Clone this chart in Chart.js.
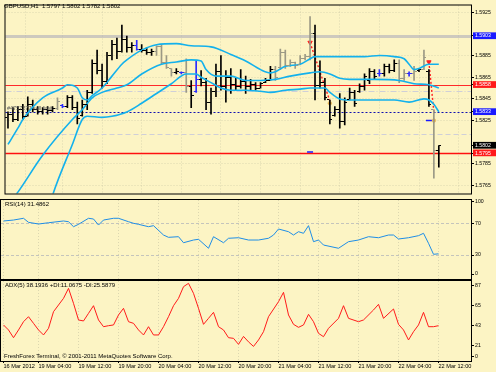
<!DOCTYPE html>
<html>
<head>
<meta charset="utf-8">
<script src="https://cdn.jsdelivr.net/npm/chart.js@4.4.1/dist/chart.umd.min.js"></script>
<style>
  body { margin: 0; width: 496px; height: 372px; overflow: hidden; position: relative; background: #fcf4c4; font-family: "Liberation Sans", Arial, sans-serif; }
  canvas { position: absolute; left: 0; }
  .txt { position: absolute; white-space: nowrap; line-height: 1; font-size: 6px; color: #000; }
</style>
</head>
<body>
<canvas id="main" width="496" height="199" style="top:0"></canvas>
<canvas id="rsi" width="496" height="81" style="top:199px"></canvas>
<canvas id="adx" width="496" height="92" style="top:280px"></canvas>
<div class="txt" style="left:4px;top:3px">GBPUSD,H1&nbsp; 1.5797 1.5802 1.5782 1.5802</div>
<div class="txt" style="left:7px;top:106px;color:#555;font-size:5.5px">#4757277 sell limit</div>
<div class="txt" style="left:5px;top:201px">RSI(14) 31.4862</div>
<div class="txt" style="left:5px;top:282px">ADX(5) 38.1936 +DI:11.0675 -DI:25.5879</div>
<div class="txt" style="left:4px;top:353px">FreshForex Terminal, © 2001-2011 MetaQuotes Software Corp.</div>
<script>
// H1 bars, index 0 = first bar on the left
const timeLabels = ['16 Mar 2012', '19 Mar 04:00', '19 Mar 12:00', '19 Mar 20:00', '20 Mar 04:00', '20 Mar 12:00',
  '20 Mar 20:00', '21 Mar 04:00', '21 Mar 12:00', '21 Mar 20:00', '22 Mar 04:00', '22 Mar 12:00'];
const timeTickBars = [0, 7, 15, 23, 31, 39, 47, 55, 63, 71, 79, 87];

const opens = [1.5828,1.5831,1.5826,1.5835,1.5829,1.5840,1.5835,1.5833,1.5835,1.5834,
  1.5836,1.5839,1.5838,1.5846,1.5837,1.5830,1.5840,1.5851,1.5878,1.5871,
  1.5861,1.5885,1.5895,1.5889,1.5900,1.5892,1.5894,1.5891,1.5890,1.5888,
  1.5889,1.5893,1.5879,1.5873,1.5869,1.5869,1.5869,1.5856,1.5852,1.5863,
  1.5860,1.5842,1.5852,1.5870,1.5856,1.5865,1.5858,1.5856,1.5861,1.5856,
  1.5858,1.5855,1.5860,1.5862,1.5872,1.5874,1.5888,1.5876,1.5879,1.5877,
  1.5882,1.5884,1.5905,1.5857,1.5860,1.5844,1.5830,1.5835,1.5824,1.5844,
  1.5851,1.5852,1.5856,1.5862,1.5870,1.5868,1.5868,1.5875,1.5871,1.5878,
  1.5864,1.5868,1.5868,1.5871,1.5872,1.5870,1.5835,1.5797];
const highs = [1.5833,1.5837,1.5838,1.5840,1.5847,1.5844,1.5838,1.5837,1.5838,1.5838,
  1.5846,1.5840,1.5848,1.5848,1.5842,1.5844,1.5853,1.5881,1.5890,1.5877,
  1.5888,1.5899,1.5901,1.5913,1.5903,1.5897,1.5899,1.5895,1.5892,1.5891,
  1.5894,1.5895,1.5885,1.5873,1.5873,1.5870,1.5882,1.5862,1.5880,1.5871,
  1.5864,1.5855,1.5877,1.5885,1.5871,1.5873,1.5864,1.5872,1.5866,1.5863,
  1.5860,1.5860,1.5864,1.5875,1.5875,1.5891,1.5890,1.5881,1.5879,1.5885,
  1.5886,1.5921,1.5913,1.5880,1.5864,1.5844,1.5838,1.5850,1.5846,1.5855,
  1.5853,1.5859,1.5868,1.5873,1.5872,1.5872,1.5877,1.5877,1.5881,1.5881,
  1.5872,1.5870,1.5875,1.5873,1.5890,1.5872,1.5835,1.5802];
const lows = [1.5818,1.5824,1.5825,1.5826,1.5829,1.5833,1.5831,1.5831,1.5831,1.5833,
  1.5835,1.5837,1.5837,1.5835,1.5822,1.5829,1.5835,1.5850,1.5868,1.5855,
  1.5859,1.5881,1.5882,1.5888,1.5888,1.5888,1.5890,1.5888,1.5886,1.5885,
  1.5885,1.5877,1.5873,1.5866,1.5868,1.5868,1.5851,1.5837,1.5851,1.5857,
  1.5835,1.5831,1.5847,1.5853,1.5842,1.5850,1.5853,1.5855,1.5850,1.5853,
  1.5853,1.5855,1.5860,1.5862,1.5862,1.5872,1.5873,1.5875,1.5873,1.5877,
  1.5881,1.5881,1.5844,1.5855,1.5844,1.5822,1.5829,1.5818,1.5821,1.5844,
  1.5838,1.5851,1.5853,1.5859,1.5863,1.5866,1.5866,1.5869,1.5870,1.5860,
  1.5862,1.5866,1.5862,1.5870,1.5872,1.5838,1.5772,1.5782];
const closes = [1.5831,1.5826,1.5835,1.5829,1.5840,1.5835,1.5833,1.5835,1.5834,1.5836,
  1.5843,1.5838,1.5846,1.5837,1.5827,1.5840,1.5851,1.5878,1.5871,1.5861,
  1.5885,1.5895,1.5889,1.5900,1.5892,1.5894,1.5891,1.5890,1.5888,1.5889,
  1.5893,1.5879,1.5874,1.5869,1.5870,1.5869,1.5856,1.5848,1.5863,1.5860,
  1.5842,1.5852,1.5870,1.5856,1.5865,1.5858,1.5856,1.5861,1.5856,1.5858,
  1.5855,1.5859,1.5862,1.5872,1.5865,1.5888,1.5876,1.5879,1.5876,1.5882,
  1.5884,1.5905,1.5857,1.5860,1.5846,1.5826,1.5835,1.5824,1.5842,1.5851,
  1.5841,1.5856,1.5866,1.5870,1.5866,1.5868,1.5875,1.5871,1.5878,1.5864,
  1.5868,1.5868,1.5870,1.5872,1.5883,1.5840,1.5797,1.5802];
const grayBars = [10, 30, 31, 32, 33, 36, 54, 55, 56, 57, 58, 59, 60, 61, 79, 80, 82, 84, 86];
const blueBars = [11, 26, 35, 38, 75, 81];

// [bar, price]
const upperBand = [[0,1.5803],[2,1.5818],[3,1.5826],[7,1.5846],[11,1.5855],[12,1.5858],[14,1.5855],[15,1.5846],
  [16,1.5844],[17,1.5848],[19,1.5855],[21,1.5866],[23,1.5877],[24,1.5881],[27,1.5890],[30,1.5895],[34,1.5896],
  [37,1.5894],[41,1.5893],[45,1.5886],[48,1.5880],[51,1.5872],[53,1.5869],[54,1.5870],[56,1.5875],[59,1.5877],
  [61,1.5882],[62,1.5884],[64,1.5884],[67,1.5884],[72,1.5884],[75,1.5885],[78,1.5884],[80,1.5882],[81,1.5877],
  [82,1.5872],[83,1.5873],[85,1.5877],[87,1.5877]];
const middleBand = [[0,1.5747],[2,1.5759],[7,1.5793],[13,1.5826],[15,1.5835],[17,1.5846],[19,1.5851],[22,1.5855],
  [24,1.5858],[27,1.5868],[31,1.5877],[34,1.5879],[37,1.5881],[39,1.5880],[40,1.5872],[42,1.5866],[45,1.5866],
  [48,1.5862],[51,1.5862],[54,1.5863],[57,1.5866],[61,1.5869],[63,1.5870],[65,1.5868],[67,1.5864],[69,1.5863],
  [74,1.5863],[79,1.5862],[82,1.5859],[85,1.5858],[87,1.5855]];
const lowerBand = [[8,1.5740],[9,1.5756],[13,1.5803],[15,1.5826],[16,1.5829],[19,1.5828],[21,1.5829],[24,1.5833],
  [27,1.5841],[30,1.5850],[33,1.5859],[36,1.5868],[38,1.5868],[39,1.5865],[41,1.5860],[43,1.5855],[45,1.5853],
  [48,1.5853],[51,1.5852],[53,1.5851],[56,1.5853],[59,1.5854],[61,1.5855],[64,1.5855],[65,1.5851],[67,1.5845],
  [69,1.5844],[72,1.5844],[78,1.5844],[81,1.5842],[84,1.5845],[85,1.5844],[86,1.5840],[87,1.5833]];

// chart objects
const hLines = [1.5903, 1.5858, 1.5852, 1.5833, 1.5813, 1.5795];
const hLineStyles = [
  { color: 'rgba(165,165,185,0.55)', width: 3, dash: [] },
  { color: '#ff2a2a', width: 1, dash: [] },
  { color: '#cfcfd8', width: 1, dash: [6, 2, 1, 2] },
  { color: '#1010b0', width: 1, dash: [2, 2] },
  { color: '#cfcfd8', width: 1, dash: [5, 3] },
  { color: '#ff1010', width: 1.5, dash: [] }
];
const tradeOpen = [[61, 1.5897], [85, 1.5879]];
const tradeClose = [[65, 1.5843], [86, 1.5833]];
const tradeStops = [[61, 1.5796], [85, 1.5825]];
const tradeExits = [[65, 1.5841], [86, 1.5825]];

const priceTicks = [1.5765, 1.5785, 1.5825, 1.5845, 1.5865, 1.5885, 1.5925];
const priceTags = [1.5795, 1.5802, 1.5833, 1.5858, 1.5903];
const tagColors = ['#ff1a1a', '#000000', '#1a1aff', '#ff1a1a', '#1a1aff'];

const rsiValues = [[0,72.9],[2,74.1],[4,76.3],[5,71.2],[7,69.1],[9,70.7],[12,72.9],[13,72.0],[14,65.7],[15,68.7],
  [17,76.3],[18,75.4],[19,67.8],[20,74.1],[22,76.3],[23,76.3],[25,72.0],[26,70.0],[27,68.7],[29,65.7],[30,67.0],
  [32,55.2],[33,52.3],[35,53.1],[36,45.5],[38,48.9],[39,49.8],[41,38.5],[42,53.1],[44,45.5],[45,51.1],[47,51.8],
  [49,48.9],[51,48.9],[53,51.1],[54,55.2],[55,62.8],[57,59.4],[58,55.2],[59,59.4],[60,57.4],[61,67.0],[62,46.8],
  [63,48.9],[64,42.6],[67,38.5],[69,46.8],[71,48.9],[73,53.1],[75,51.8],[77,55.2],[78,55.2],[79,50.2],[81,51.8],
  [83,54.4],[84,57.4],[85,44.8],[86,30.9],[87,31.5]];
const rsiTicks = [0, 30, 70, 100];
const rsiLevels = [30, 70];

const adxValues = [[0,43.6],[1,38.1],[2,29.6],[3,38.1],[4,47.2],[5,52.7],[6,45.4],[7,38.1],[8,32.6],[9,39.9],
  [10,58.2],[12,72.9],[13,83.9],[14,67.4],[15,49.1],[16,48.0],[17,56.4],[18,64.8],[19,49.1],[20,41.7],[21,42.8],
  [22,43.6],[23,54.6],[24,61.9],[25,47.2],[26,45.4],[27,38.1],[28,32.6],[29,41.7],[30,32.6],[31,32.6],[32,41.7],
  [33,52.7],[34,64.8],[35,72.9],[36,85.7],[37,89.4],[38,78.4],[39,61.9],[40,44.3],[41,50.9],[42,57.5],[43,41.7],
  [44,38.1],[45,29.6],[46,28.9],[47,22.3],[48,31.0],[49,25.0],[50,20.0],[51,27.1],[52,36.2],[53,52.7],[55,69.2],
  [56,79.5],[57,54.6],[58,44.3],[59,41.0],[60,43.6],[61,55.3],[62,47.2],[63,34.4],[64,30.7],[65,39.9],[67,50.9],
  [68,64.8],[69,50.9],[71,47.2],[72,49.1],[74,60.1],[75,66.3],[76,50.9],[78,61.2],[79,44.3],[80,38.1],[81,27.1],
  [82,36.2],[83,43.6],[84,57.5],[85,41.7],[86,41.7],[87,42.8]];
const adxTicks = [0, 21, 43, 65, 87];

Chart.defaults.font.family = '"Liberation Sans", Arial, sans-serif';
Chart.defaults.animation = false;
Chart.defaults.plugins.legend.display = false;
Chart.defaults.plugins.tooltip.enabled = false;

const gridColor = 'rgba(160,160,140,0.35)';
const pts = arr => arr.map(([x, y]) => ({ x, y }));
const barColor = i => grayBars.includes(i) ? '#9b9985' : blueBars.includes(i) ? '#2b2bff' : '#000';
const tagIndex = v => priceTags.indexOf(v);

const paneFrame = {
  id: 'paneFrame',
  afterDraw(chart) {
    const { ctx, chartArea: a } = chart;
    ctx.save();
    ctx.strokeStyle = '#000';
    ctx.lineWidth = 1;
    ctx.strokeRect(a.left - 0.5, a.top - 0.5, a.right - a.left + 1, a.bottom - a.top + 1);
    ctx.restore();
  }
};

const levelLines = {
  id: 'levelLines',
  beforeDatasetsDraw(chart) {
    const { ctx, chartArea: a, scales: { y } } = chart;
    ctx.save();
    hLines.forEach((price, k) => {
      const s = hLineStyles[k];
      const py = Math.round(y.getPixelForValue(price)) + 0.5;
      ctx.strokeStyle = s.color;
      ctx.lineWidth = s.width;
      ctx.setLineDash(s.dash);
      ctx.beginPath();
      ctx.moveTo(a.left, py);
      ctx.lineTo(a.right, py);
      ctx.stroke();
    });
    ctx.restore();
  }
};

// open tick on the left, close tick on the right of each bar
const barTicks = {
  id: 'barTicks',
  afterDatasetsDraw(chart) {
    const { ctx, scales: { x, y } } = chart;
    ctx.save();
    opens.forEach((o, i) => {
      const px = Math.round(x.getPixelForValue(i) - 0.5);
      ctx.fillStyle = barColor(i);
      ctx.fillRect(px - 2, Math.round(y.getPixelForValue(o) - 0.5), 2, 1);
      ctx.fillRect(px + 1, Math.round(y.getPixelForValue(closes[i]) - 0.5), 2, 1);
    });
    ctx.restore();
  }
};

function timeAxis(showLabels) {
  return {
    type: 'linear', min: -0.5, max: 93.5, offset: false,
    afterBuildTicks: a => { a.ticks = timeTickBars.map(v => ({ value: v })); },
    ticks: {
      display: showLabels, autoSkip: false, maxRotation: 0, align: 'start', padding: 0,
      font: { size: 5.6 }, color: '#000',
      callback: v => timeLabels[timeTickBars.indexOf(v)]
    },
    grid: { color: gridColor, drawTicks: showLabels, tickLength: 2, tickColor: '#000' },
    border: { display: false, dash: [1, 2] },
    afterFit: s => { s.height = showLabels ? 11 : 0; s.paddingLeft = 0; s.paddingRight = 0; }
  };
}

// MT4 keeps the end labels of a sub window inside the pane
function pinnedTicks(values, lowGap, highGap) {
  return a => {
    a.ticks = values.map(v => ({
      value: Math.min(Math.max(v, a.min + lowGap), a.max - highGap),
      text: String(v)
    }));
  };
}

const sideAxisWidth = s => { s.width = 25; s.paddingTop = 0; s.paddingBottom = 0; };

const bandStyle = { type: 'line', borderColor: '#13b1ec', borderWidth: 1.6, pointRadius: 0,
  tension: 0.4, cubicInterpolationMode: 'monotone', clip: 0 };

new Chart(document.getElementById('main'), {
  type: 'bar',
  data: {
    datasets: [
      Object.assign({ data: pts(upperBand) }, bandStyle),
      Object.assign({ data: pts(middleBand) }, bandStyle),
      Object.assign({ data: pts(lowerBand) }, bandStyle),
      {
        type: 'bar',
        data: highs.map((h, i) => ({ x: i, y: [lows[i], h] })),
        backgroundColor: highs.map((h, i) => barColor(i)),
        barThickness: 1, grouped: false, borderWidth: 0
      },
      ...tradeOpen.map((p, k) => ({
        type: 'line', data: pts([p, tradeClose[k]]), borderColor: '#ff2020',
        borderWidth: 1.4, borderDash: [2, 2], pointRadius: 0
      })),
      { type: 'line', showLine: false, data: pts(tradeOpen), pointStyle: 'triangle', rotation: 180,
        pointRadius: 2.5, backgroundColor: '#ff2020', borderColor: '#ff2020', borderWidth: 1 },
      { type: 'line', showLine: false, data: pts(tradeStops), pointStyle: 'line',
        pointRadius: 3, borderColor: '#1a1aff', borderWidth: 1.5 },
      { type: 'line', showLine: false, data: pts(tradeExits), pointStyle: 'circle',
        pointRadius: 1.8, backgroundColor: '#e8a020', borderColor: '#e8c070', borderWidth: 1 }
    ]
  },
  options: {
    responsive: false,
    devicePixelRatio: 1,
    layout: { padding: { top: 1, left: 1, right: 0, bottom: 1 } },
    scales: {
      x: timeAxis(false),
      y: {
        type: 'linear', position: 'right', min: 1.575776, max: 1.593112,
        afterBuildTicks: a => {
          a.ticks = priceTicks.concat(priceTags).sort((p, q) => p - q).map(v => ({ value: v }));
        },
        ticks: {
          autoSkip: false, padding: 1, font: { size: 5.2 },
          color: c => tagIndex(c.tick.value) >= 0 ? '#fff' : '#000',
          showLabelBackdrop: c => tagIndex(c.tick.value) >= 0,
          backdropColor: c => tagColors[tagIndex(c.tick.value)] || 'rgba(0,0,0,0)',
          backdropPadding: { top: 0.5, bottom: 0, left: 2, right: 8 },
          callback: v => v.toFixed(4)
        },
        grid: {
          color: c => c.tick && tagIndex(c.tick.value) >= 0 ? 'rgba(0,0,0,0)' : gridColor,
          tickLength: 3, tickColor: '#000'
        },
        border: { display: false, dash: [1, 2] },
        afterFit: sideAxisWidth
      }
    }
  },
  plugins: [levelLines, barTicks, paneFrame]
});

new Chart(document.getElementById('rsi'), {
  type: 'line',
  data: {
    datasets: [{ data: pts(rsiValues), borderColor: '#1e8de6', borderWidth: 1, pointRadius: 0, tension: 0 }]
  },
  options: {
    responsive: false,
    devicePixelRatio: 1,
    layout: { padding: { top: 1, left: 1, right: 0, bottom: 1 } },
    scales: {
      x: timeAxis(false),
      y: {
        type: 'linear', position: 'right', min: -0.25, max: 99.37,
        afterBuildTicks: pinnedTicks(rsiTicks, 6.3, 2.2),
        ticks: { autoSkip: false, padding: 1, font: { size: 5.2 }, color: '#000',
          callback: (v, i, t) => t[i].text },
        grid: {
          color: c => c.tick && rsiLevels.includes(c.tick.value) ? '#c4c4bc' : 'rgba(0,0,0,0)',
          tickLength: 3, tickColor: '#000'
        },
        border: { display: false, dash: [3, 2] },
        afterFit: sideAxisWidth
      }
    }
  },
  plugins: [paneFrame]
});

new Chart(document.getElementById('adx'), {
  type: 'line',
  data: {
    datasets: [{ data: pts(adxValues), borderColor: '#ff1a1a', borderWidth: 1, pointRadius: 0, tension: 0 }]
  },
  options: {
    responsive: false,
    devicePixelRatio: 1,
    layout: { padding: { top: 1, left: 1, right: 0, bottom: 0 } },
    scales: {
      x: timeAxis(true),
      y: {
        type: 'linear', position: 'right', min: 3.96, max: 91.97,
        afterBuildTicks: pinnedTicks(adxTicks, 4.7, 0),
        ticks: { autoSkip: false, padding: 1, font: { size: 5.2 }, color: '#000',
          callback: (v, i, t) => t[i].text },
        grid: { color: 'rgba(0,0,0,0)', tickLength: 3, tickColor: '#000' },
        border: { display: false },
        afterFit: sideAxisWidth
      }
    }
  },
  plugins: [paneFrame]
});
</script>
</body>
</html>
